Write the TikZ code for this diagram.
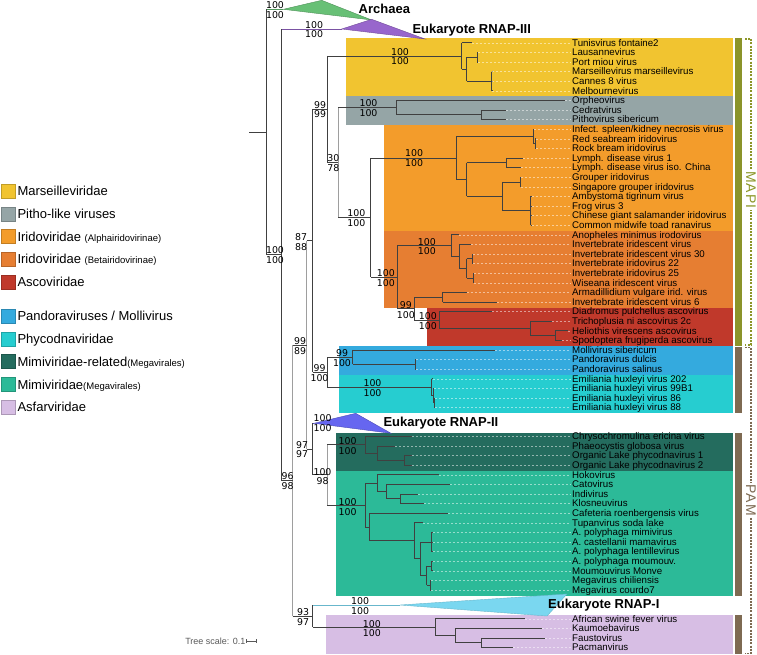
\documentclass[tikz,border=0pt]{standalone}
\usepackage{fontspec}
\setmainfont{Liberation Sans}
\newfontfamily\bsfont{DejaVu Sans}
\newfontfamily\spacedfont[LetterSpace=8]{Liberation Sans}
\definecolor{cMars}{RGB}{241,196,48}
\definecolor{cPitho}{RGB}{149,165,166}
\definecolor{cAlpha}{RGB}{243,156,43}
\definecolor{cBeta}{RGB}{230,126,50}
\definecolor{cAsco}{RGB}{192,57,43}
\definecolor{cPand}{RGB}{52,170,222}
\definecolor{cPhyco}{RGB}{38,205,208}
\definecolor{cMimR}{RGB}{36,108,94}
\definecolor{cMimi}{RGB}{44,186,152}
\definecolor{cAsfar}{RGB}{215,190,228}
\definecolor{cOlive}{RGB}{139,148,42}
\definecolor{cOliveL}{RGB}{140,150,40}
\definecolor{cBrown}{RGB}{126,106,82}
\definecolor{cArch}{RGB}{104,192,118}
\definecolor{cR3}{RGB}{152,102,204}
\definecolor{cR2}{RGB}{102,102,240}
\definecolor{cR1}{RGB}{122,215,240}
\begin{document}
\begin{tikzpicture}[x=1pt,y=-1pt,
  tr/.style={draw=black!75, line width=0.75pt},
  bb/.style={draw=black!38, line width=1.2pt},
  lead/.style={draw=white, opacity=0.5, line width=0.4pt, dash pattern=on 2pt off 2pt},
  tip/.style={anchor=base west, inner sep=0pt, font=\fontsize{9.7}{10}\selectfont},
  bs/.style={inner sep=0pt, font=\bsfont\fontsize{9.4}{10}\selectfont},
  big/.style={anchor=base west, inner sep=0pt, font=\bfseries\fontsize{13}{14}\selectfont},
  leg/.style={anchor=base west, inner sep=0pt, font=\fontsize{13}{14}\selectfont},
  brk/.style={line width=1.4pt, dash pattern=on 2pt off 1.2pt},
  brklab/.style={fill=white, inner sep=1.2pt, rotate=-90, font=\spacedfont\fontsize{14}{14}\selectfont}
]
\useasboundingbox (0,0) rectangle (757,654);

% ---------- coloured bands ----------
\fill[cMars]  (346,38.3) rectangle (732.5,96);
\fill[cPitho] (346,96) rectangle (732.5,125);
\fill[cAlpha] (384.3,125) rectangle (732.5,230.7);
\fill[cBeta]  (384.3,230.7) rectangle (732.5,307.7);
\fill[cAsco]  (427.3,307.7) rectangle (732.5,346);
\fill[cPand]  (339,346) rectangle (732.5,375);
\fill[cPhyco] (339,375) rectangle (732.5,413.3);
\fill[cMimR]  (336,432.7) rectangle (732.5,471);
\fill[cMimi]  (336,471) rectangle (732.5,596);
\fill[cAsfar] (326,615) rectangle (732.5,654);

% ---------- collapsed clades ----------
\draw[cArch!80!black, line width=0.75pt] (266,9.3) -- (283.3,9.3);
\fill[cArch, draw=cArch!75!black, line width=0.4pt] (283.3,9.3) -- (321.7,0.3) -- (371.7,20) -- cycle;
\draw[cR3!80!black, line width=0.75pt] (281.7,29) -- (341.7,29);
\fill[cR3, draw=cR3!75!black, line width=0.4pt] (341.7,29) -- (371.7,19.3) -- (425,39) -- cycle;
\draw[cR2!80!black, line width=0.75pt] (312.7,423.3) -- (314,423.3);
\fill[cR2, draw=cR2!75!black, line width=0.4pt] (314,423.3) -- (355.7,413.3) -- (391,433.3) -- cycle;
\draw[cR1!85!black, line width=0.75pt] (312.7,605) -- (400,605);
\fill[cR1, draw=cR1!85!black, line width=0.4pt] (400,605) -- (567,594) -- (547,616) -- cycle;

% ---------- tree: verticals ----------
\foreach \x/\a/\b in {266/9.3/254.8, 281.7/29/480.7, 312.7/109.2/372.1, 327.3/55.9/162.5,
  461.7/42.7/69.1, 466.7/57.1/81.1, 477.3/52.3/61.9, 491.7/71.5/90.7,
  396.7/100.3/114.7, 481.3/109.9/119.5, 370.7/157.9/277, 456/136.3/179.5,
  533.3/129.1/143.5, 535/138.7/148.3, 466.7/162.7/196.3, 506/157.9/167.5,
  502/181.9/210.7, 520/177.1/186.7, 530.7/196.3/225.1, 397.3/245.5/308.5,
  451/234.7/256.3, 459/244.3/268.3, 466.7/258.7/277.9, 472.3/253.9/263.5,
  473.3/273.1/282.7, 414/297.1/319.9, 442.7/292.3/301.9, 439.3/311.5/328.3,
  530/321.1/335.5, 555/330.7/340.3, 327.3/357.1/387.1, 352.7/349.9/364.3,
  415/359.5/369.1, 431.7/378.7/395.5, 433/388.3/402.7, 434/397.9/407.5,
  312.7/423.3/474.85, 365/436.3/453.1, 377.3/445.9/460.3, 404.3/455.5/465.1,
  365/483.1/526.9, 377.3/474.7/491.5, 386.7/484.3/498.7, 400/493.9/503.5,
  369.3/513.1/540.7, 414.3/522.7/558.7, 420/541.9/575.5, 431.7/532.3/551.5,
  426.7/565.9/585.1, 431.7/561.1/570.7, 430/580.3/589.9, 312.7/605/627.1,
  435/618.7/635.5, 455/628.3/642.7, 481.7/637.9/647.5}
  \draw[tr] (\x,\a) -- (\x,\b);
\foreach \x/\a/\b in {292.7/345.3/616, 306.7/240.65/449.1, 338.3/107.5/217.5, 327.3/444.7/505}
  \draw[bb] (\x,\a) -- (\x,\b);

% ---------- tree: internal horizontals ----------
\foreach \a/\b/\y in {249.3/266/132, 266/281.7/254.8, 281.7/292.7/480.7, 292.7/306.7/345.3,
  306.7/312.7/240.65, 312.7/327.3/109.2, 327.3/461.7/55.9, 461.7/466.7/69.1,
  466.7/477.3/57.1, 466.7/491.7/81.1, 327.3/338.3/162.5, 338.3/396.7/107.5,
  396.7/481.3/114.7, 338.3/370.7/217.5, 370.7/456/157.9, 456/533.3/136.3,
  533.3/535/143.5, 456/466.7/179.5, 466.7/506/162.7, 466.7/502/196.3,
  502/520/181.9, 502/530.7/210.7, 370.7/397.3/277, 397.3/451/245.5,
  451/459/256.3, 459/466.7/268.3, 466.7/472.3/258.7, 466.7/473.3/277.9,
  397.3/414/308.5, 414/442.7/297.1, 414/439.3/319.9, 439.3/530/328.3,
  530/555/335.5, 312.7/327.3/372.1, 327.3/352.7/357.1, 352.7/415/364.3,
  327.3/431.7/387.1, 431.7/433/395.5, 433/434/402.7, 306.7/312.7/449.1,
  312.7/327.3/474.85, 327.3/365/444.7, 365/377.3/453.1, 377.3/404.3/460.3,
  327.3/365/505, 365/377.3/483.1, 377.3/386.7/491.5, 386.7/400/498.7,
  365/369.3/526.9, 369.3/414.3/540.7, 414.3/420/558.7, 420/431.7/541.9,
  420/426.7/575.5, 426.7/431.7/565.9, 426.7/430/585.1, 292.7/312.7/616,
  312.7/435/627.1, 435/455/635.5, 455/481.7/642.7}
  \draw[tr] (\a,\y) -- (\b,\y);

% ---------- tips: branch, leader, label ----------
\foreach \i/\p/\e/\t in {
  0/461.7/471.7/Tunisvirus fontaine2, 1/477.3/478/Lausannevirus, 2/477.3/478/Port miou virus,
  3/491.7/492.3/Marseillevirus marseillevirus, 4/491.7/492.3/Cannes 8 virus, 5/491.7/492.3/Melbournevirus,
  6/396.7/565/Orpheovirus, 7/481.3/506/Cedratvirus, 8/481.3/506/Pithovirus sibericum,
  9/533.3/534/{Infect. spleen/kidney necrosis virus}, 10/535/536/Red seabream iridovirus,
  11/535/536/Rock bream iridovirus, 12/506/523.3/Lymph. disease virus 1,
  13/506/521/Lymph. disease virus iso. China, 14/520/521/Grouper iridovirus,
  15/520/521/Singapore grouper iridovirus, 16/530.7/531.5/Ambystoma tigrinum virus,
  17/530.7/531.5/Frog virus 3, 18/530.7/531.5/Chinese giant salamander iridovirus,
  19/530.7/531.5/Common midwife toad ranavirus, 20/451/459.3/Anopheles minimus irodovirus,
  21/459/471/Invertebrate iridescent virus, 22/472.3/473/Invertebrate iridescent virus 30,
  23/472.3/473/Invertebrate iridovirus 22, 24/473.3/474/Invertebrate iridovirus 25,
  25/473.3/474/Wiseana iridescent virus, 26/442.7/466.7/Armadillidium vulgare irid. virus,
  27/442.7/496.7/Invertebrate iridescent virus 6, 28/439.3/492/Diadromus pulchellus ascovirus,
  29/530/551.7/Trichoplusia ni ascovirus 2c, 30/555/568/Heliothis virescens ascovirus,
  31/555/561.7/Spodoptera frugiperda ascovirus, 32/352.7/495/Mollivirus sibericum,
  33/415/416/Pandoravirus dulcis, 34/415/416/Pandoravirus salinus,
  35/431.7/433/Emiliania huxleyi virus 202, 36/433/434/Emiliania huxleyi virus 99B1,
  37/434/435/Emiliania huxleyi virus 86, 38/434/435/Emiliania huxleyi virus 88,
  41/365/411.7/Chrysochromulina ericina virus, 42/377.3/395/Phaeocystis globosa virus,
  43/404.3/411.7/Organic Lake phycodnavirus 1, 44/404.3/411.7/Organic Lake phycodnavirus 2,
  45/377.3/439/Hokovirus, 46/386.7/450/Catovirus, 47/400/417.7/Indivirus,
  48/400/424/Klosneuvirus, 49/369.3/448.3/Cafeteria roenbergensis virus,
  50/414.3/423.3/Tupanvirus soda lake, 51/431.7/432.5/A. polyphaga mimivirus,
  52/431.7/432.5/A. castellanii mamavirus, 53/431.7/432.5/A. polyphaga lentillevirus,
  54/431.7/432.5/A. polyphaga moumouv., 55/431.7/432.5/Moumouvirus Monve,
  56/430/431/Megavirus chiliensis, 57/430/431/Megavirus courdo7,
  60/435/525/African swine fever virus, 61/455/541.7/Kaumoebavirus,
  62/481.7/545/Faustovirus, 63/481.7/513.3/Pacmanvirus}
{
  \draw[tr] (\p,{42.7+9.6*\i}) -- (\e,{42.7+9.6*\i});
  \draw[lead] (\e,{42.7+9.6*\i}) -- (570.5,{42.7+9.6*\i});
  \node[tip] (t\i) at (572,{46.1+9.6*\i}) {\t};
}

% ---------- clade labels ----------
\node[big] (archaea) at (358.5,13.95) {Archaea};
\node[big] (rnap3) at (412.3,33.65) {Eukaryote RNAP-III};
\node[big] (rnap2) at (383.3,426.35) {Eukaryote RNAP-II};
\node[big] (rnap1) at (548,608.95) {Eukaryote RNAP-I};

% ---------- support values ----------
\foreach \n/\x/\a/\b/\u/\l in {
  s1/275/5/15/100/100, s2/275/250/260/100/100, s3/314.2/25/34.3/100/100,
  s4/287.5/476/485.7/96/98, s5/300/340.7/350.7/99/89, s6/303/612.3/621.7/93/97,
  s7/301/236.7/246.7/87/88, s8/302/445/454.3/97/97, s9/320/105/114.3/99/99,
  s10/319.5/368.3/378.3/99/100, s11/342/353.3/363.3/99/100, s12/372.5/383.3/393.3/100/100,
  s13/400/51.7/61/100/100, s14/333.3/158.3/167.7/30/78, s15/368.5/103.3/113.3/100/100,
  s16/356.3/213.3/223.3/100/100, s17/414.2/153.3/162.7/100/100, s18/385.8/273.3/283.3/100/100,
  s19/426.8/241.7/251/100/100, s20/405.8/305/315/99/100, s21/427.8/316/325.7/100/100,
  s22/322.7/418.3/428.3/100/100, s23/322.5/471.7/481/100/98, s24/347.7/441/451/100/100,
  s25/347.7/501.7/511.7/100/100, s26/360.2/601/610.7/100/100, s27/371.8/624/633.3/100/100}
{
  \node[bs] (\n a) at (\x,\a) {\u};
  \node[bs] (\n b) at (\x,\b) {\l};
}

% ---------- bars and brackets ----------
\fill[cOlive] (734.5,38.3) rectangle (741.5,345.5);
\fill[cBrown] (734.5,347) rectangle (741.5,413.3);
\fill[cBrown] (734.5,432.7) rectangle (741.5,596);
\fill[cBrown] (734.5,615) rectangle (741.5,654);
\draw[brk, cOliveL] (745,38.8) -- (751,38.8) -- (751,345) -- (745,345);
\draw[brk, cBrown] (745,347.5) -- (751,347.5) -- (751,653.3) -- (745,653.3);
\node[brklab, text=cOliveL] (mapi) at (751,190) {MAPI};
\node[brklab, text=cBrown] (pam) at (751,500) {PAM};

% ---------- legend ----------
\foreach \n/\y/\c/\t in {
  l1/191/cMars/Marseilleviridae,
  l2/213.7/cPitho/Pitho-like viruses,
  l3/236.4/cAlpha/{Iridoviridae {\fontsize{9.5}{10}\selectfont (Alphairidovirinae)}},
  l4/259.2/cBeta/{Iridoviridae {\fontsize{9.5}{10}\selectfont (Betairidovirinae)}},
  l5/281.8/cAsco/Ascoviridae,
  l6/316/cPand/{Pandoraviruses / Mollivirus},
  l7/338.8/cPhyco/Phycodnaviridae,
  l8/361.6/cMimR/{Mimiviridae-related{\fontsize{9.5}{10}\selectfont (Megavirales)}},
  l9/384.6/cMimi/{Mimiviridae{\fontsize{9.5}{10}\selectfont (Megavirales)}},
  l10/407.3/cAsfar/Asfarviridae}
{
  \fill[\c, draw=\c!80!black, line width=0.4pt] (0.8,\y-7) rectangle (15.5,\y+7);
  \node[leg] (\n) at (17.3,\y+4.65) {\t};
}

% ---------- tree scale ----------
\node[anchor=base east, inner sep=0pt, text=black!65, font=\fontsize{9}{9}\selectfont] (scale) at (245.5,644) {Tree scale: 0.1};
\draw[black!65, line width=0.6pt] (246.7,641) -- (256,641) (246.7,639) -- (246.7,643) (256,639) -- (256,643);
\end{tikzpicture}
\end{document}
